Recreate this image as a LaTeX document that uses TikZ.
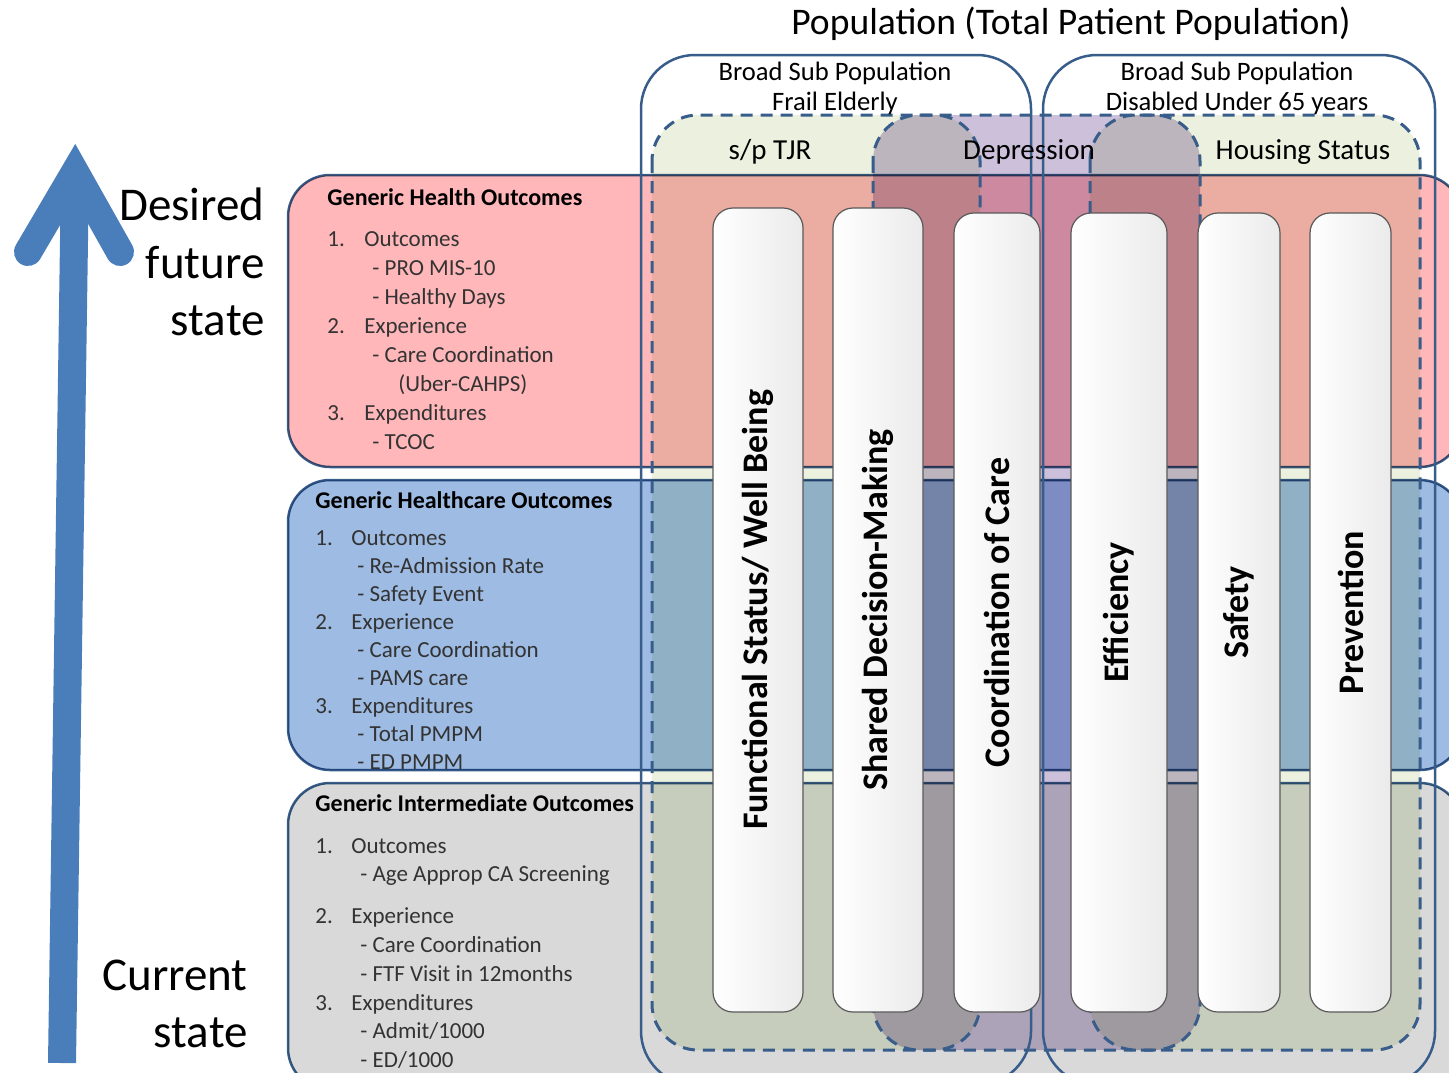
\documentclass[tikz,border=0pt]{standalone}
\usepackage{fontspec}
\setmainfont{Carlito}
\usepackage[]{xcolor}

\definecolor{outline}{HTML}{385D8A}
\definecolor{arrowblue}{HTML}{4A7EBB}
\definecolor{tjrgreen}{HTML}{EBF1DE}
\definecolor{deprpurple}{HTML}{CCC0DA}
\definecolor{healthpink}{HTML}{FFB7BA}
\definecolor{careblue}{HTML}{9DBBE3}
\definecolor{intergray}{HTML}{D9D9D9}
\definecolor{columnline}{HTML}{595959}

\begin{document}
\begin{tikzpicture}[
            x=0.5pt, y=-0.5pt,
            band/.style={draw=outline, line width=1.25pt, rounded corners=21pt, blend mode=multiply},
            broadbox/.style={draw=outline, line width=1.25pt, rounded corners=27pt},
            subfill/.style={rounded corners=23pt, blend mode=multiply},
            subarea/.style={draw=outline, line width=1.5pt, dash pattern=on 6pt off 4pt, rounded corners=23pt},
            column/.style={rectangle, draw=columnline, line width=0.6pt, rounded corners=10pt, left color=white, right color=black!8, inner sep=0pt},
            columntext/.style={rotate=90, inner sep=0pt, font=\fontsize{18}{21}\selectfont\bfseries},
            bandtext/.style={anchor=north west, inner sep=0pt, align=left, text=black!80},
            statetext/.style={anchor=east, inner sep=0pt, align=right, font=\fontsize{23.5}{28.75}\selectfont},
            barb/.style={draw=arrowblue, line width=14pt, line cap=round, line join=miter}
        ]
            \useasboundingbox (0,0) rectangle (1449,1072);

            % sub populations
            \fill[subfill, tjrgreen] (652,115) rectangle (980,1050);
            \fill[subfill, tjrgreen] (1090,115) rectangle (1420,1050);
            \fill[subfill, deprpurple] (873,115) rectangle (1200,1050);

            % outcome bands
            \draw[band, fill=healthpink] (288,175) rectangle (1462,467);
            \draw[band, fill=careblue] (288,480) rectangle (1462,770);
            \draw[band, fill=intergray] (288,783) rectangle (1462,1090);

            \draw[subarea] (652,115) rectangle (980,1050);
            \draw[subarea] (873,115) rectangle (1200,1050);
            \draw[subarea] (1090,115) rectangle (1420,1050);

            \draw[broadbox] (641,55) rectangle (1031,1085);
            \draw[broadbox] (1043,55) rectangle (1435,1085);

            % columns
            \node[column, minimum width=45pt, minimum height=402pt] (func) at (758,610) {};
            \node[column, minimum width=45pt, minimum height=402pt] (shared) at (878,610) {};
            \node[column, minimum width=43pt, minimum height=399.5pt] (coord) at (997,612.5) {};
            \node[column, minimum width=48pt, minimum height=399.5pt] (effic) at (1119,612.5) {};
            \node[column, minimum width=41pt, minimum height=399.5pt] (safety) at (1239,612.5) {};
            \node[column, minimum width=40.5pt, minimum height=399.5pt] (prevent) at (1350.5,612.5) {};

            \node[columntext] (funclabel) at (func) {Functional Status/ Well Being};
            \node[columntext] (sharedlabel) at (shared) {Shared Decision-Making};
            \node[columntext] (coordlabel) at (coord) {Coordination of Care};
            \node[columntext] (efficlabel) at (effic) {Efficiency};
            \node[columntext] (safetylabel) at (safety) {Safety};
            \node[columntext] (preventlabel) at (prevent) {Prevention};

            % population labels
            \node[font=\fontsize{18.8}{22}\selectfont] (pop) at (1071,24) {Population (Total Patient Population)};
            \node[align=center, font=\fontsize{13.3}{15}\selectfont] (frail) at (835,88) {Broad Sub Population\\Frail Elderly};
            \node[align=center, font=\fontsize{13.3}{15}\selectfont] (disabled) at (1237,88) {Broad Sub Population\\Disabled Under 65 years};
            \node[font=\fontsize{14.5}{17}\selectfont] (tjr) at (770,152) {s/p TJR};
            \node[font=\fontsize{14.5}{17}\selectfont] (depr) at (1029,152) {Depression};
            \node[font=\fontsize{14.5}{17}\selectfont] (housing) at (1303,152) {Housing Status};

            % band texts
            \node[bandtext, font=\fontsize{11.5}{14.5}\selectfont] (healthtext) at (327,188) {%
                {\color{black}\bfseries\fontsize{12}{14.5}\selectfont Generic Health Outcomes}\\[6pt]
                \makebox[18.5pt][l]{1.}Outcomes\\
                \hspace*{22.5pt}- PRO MIS-10\\
                \hspace*{22.5pt}- Healthy Days\\
                \makebox[18.5pt][l]{2.}Experience\\
                \hspace*{22.5pt}- Care Coordination\\
                \hspace*{35.5pt}(Uber-CAHPS)\\
                \makebox[18.5pt][l]{3.}Expenditures\\
                \hspace*{22.5pt}- TCOC};
            \node[bandtext, font=\fontsize{11.5}{14}\selectfont] (caretext) at (315,491) {%
                {\color{black}\bfseries\fontsize{12}{14}\selectfont Generic Healthcare Outcomes}\\[4.5pt]
                \makebox[18pt][l]{1.}Outcomes\\
                \hspace*{21pt}- Re-Admission Rate\\
                \hspace*{21pt}- Safety Event\\
                \makebox[18pt][l]{2.}Experience\\
                \hspace*{21pt}- Care Coordination\\
                \hspace*{21pt}- PAMS care\\
                \makebox[18pt][l]{3.}Expenditures\\
                \hspace*{21pt}- Total PMPM\\
                \hspace*{21pt}- ED PMPM};
            \node[bandtext, font=\fontsize{11.5}{14.4}\selectfont] (intertext) at (315,794) {%
                {\color{black}\bfseries\fontsize{12}{14.4}\selectfont Generic Intermediate Outcomes}\\[6.5pt]
                \makebox[18pt][l]{1.}Outcomes\\
                \hspace*{22.5pt}- Age Approp CA Screening\\[6.5pt]
                \makebox[18pt][l]{2.}Experience\\
                \hspace*{22.5pt}- Care Coordination\\
                \hspace*{22.5pt}- FTF Visit in 12months\\
                \makebox[18pt][l]{3.}Expenditures\\
                \hspace*{22.5pt}- Admit/1000\\
                \hspace*{22.5pt}- ED/1000};

            % direction arrow
            \coordinate (current) at (62,1063);
            \coordinate (future) at (75,172);
            \coordinate (barbleft) at (28,252);
            \coordinate (barbright) at (120,252);
            \draw[arrowblue, line width=14pt] (current) -- (future);
            \draw[barb] (barbleft) -- (future) -- (barbright);

            \node[statetext] (desired) at (265,262) {Desired\\future\\state};
            \node[statetext] (now) at (248,1004) {Current\\state};
        \end{tikzpicture}
\end{document}
